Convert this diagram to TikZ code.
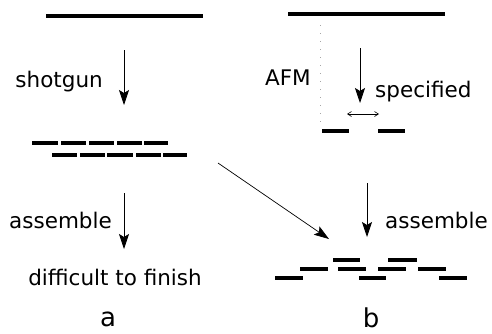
\documentclass[tikz,border=0pt]{standalone}
\usepackage{fontspec}
\setmainfont{DejaVu Sans}
\usetikzlibrary{arrows.meta}
\begin{document}
\begin{tikzpicture}[x=1pt,y=-1pt,
  strand/.style={line width=4pt},
  frag/.style={line width=3.6pt},
  flow/.style={line width=0.8pt,-{Stealth[length=15pt,width=10pt,inset=3pt]}},
  thin/.style={line width=0.6pt,{Straight Barb[length=4pt,width=5pt]}-{Straight Barb[length=4pt,width=5pt]}},
  lab/.style={font=\fontsize{21.5}{24}\selectfont,inner sep=0pt},
  big/.style={font=\fontsize{26}{28}\selectfont,inner sep=0pt,anchor=base}]
\useasboundingbox (0,0) rectangle (492,333);
% panel a
\draw[strand] (46,15.5) -- (203,15.5);
\coordinate (a1) at (124,50); \coordinate (a2) at (124,105);
\draw[flow] (a1) -- (a2);
\node[lab,anchor=east] (shot) at (103,82) {shotgun};
\foreach \x/\y in {32/58,61/86,89/114,117/142,144/168}{\draw[frag] (\x,143) -- (\y,143);}
\foreach \x/\y in {52/77,80/105,107/133,136/161,163/187}{\draw[frag] (\x,155) -- (\y,155);}
\coordinate (a3) at (124,193); \coordinate (a4) at (124,249);
\draw[flow] (a3) -- (a4);
\node[lab,anchor=east] (asa) at (112,220) {assemble};
\node[lab] (diff) at (115,277) {difficult to finish};
\node[big] (la) at (108,326) {a};
% panel b
\draw[strand] (288,14) -- (445,14);
\draw[gray!70,line width=0.6pt,dash pattern=on 1pt off 7pt] (320,25) -- (320,124);
\node[lab,anchor=east] (afm) at (311,78) {AFM};
\coordinate (b1) at (360,48); \coordinate (b2) at (360,103);
\draw[flow] (b1) -- (b2);
\node[lab,anchor=west] (spec) at (375,92) {specified};
\coordinate (s1) at (347,114); \coordinate (s2) at (379,114);
\draw[thin] (s1) -- (s2);
\draw[frag] (322,131) -- (349,131);
\draw[frag] (378,131) -- (405,131);
\coordinate (b3) at (367,183); \coordinate (b4) at (367,237);
\draw[flow] (b3) -- (b4);
\node[lab,anchor=west] (asb) at (385,220) {assemble};
\coordinate (d1) at (218,163); \coordinate (d2) at (329,239);
\draw[flow,line width=0.7pt] (d1) -- (d2);
\foreach \x/\y in {333/360,388/417}{\draw[frag] (\x,260) -- (\y,260);}
\foreach \x/\y in {300/328,338/366,378/406,418/446}{\draw[frag] (\x,269) -- (\y,269);}
\foreach \x/\y in {275/303,359/386,439/467}{\draw[frag] (\x,278) -- (\y,278);}
\node[big] (lb) at (371,327) {b};
\end{tikzpicture}
\end{document}
